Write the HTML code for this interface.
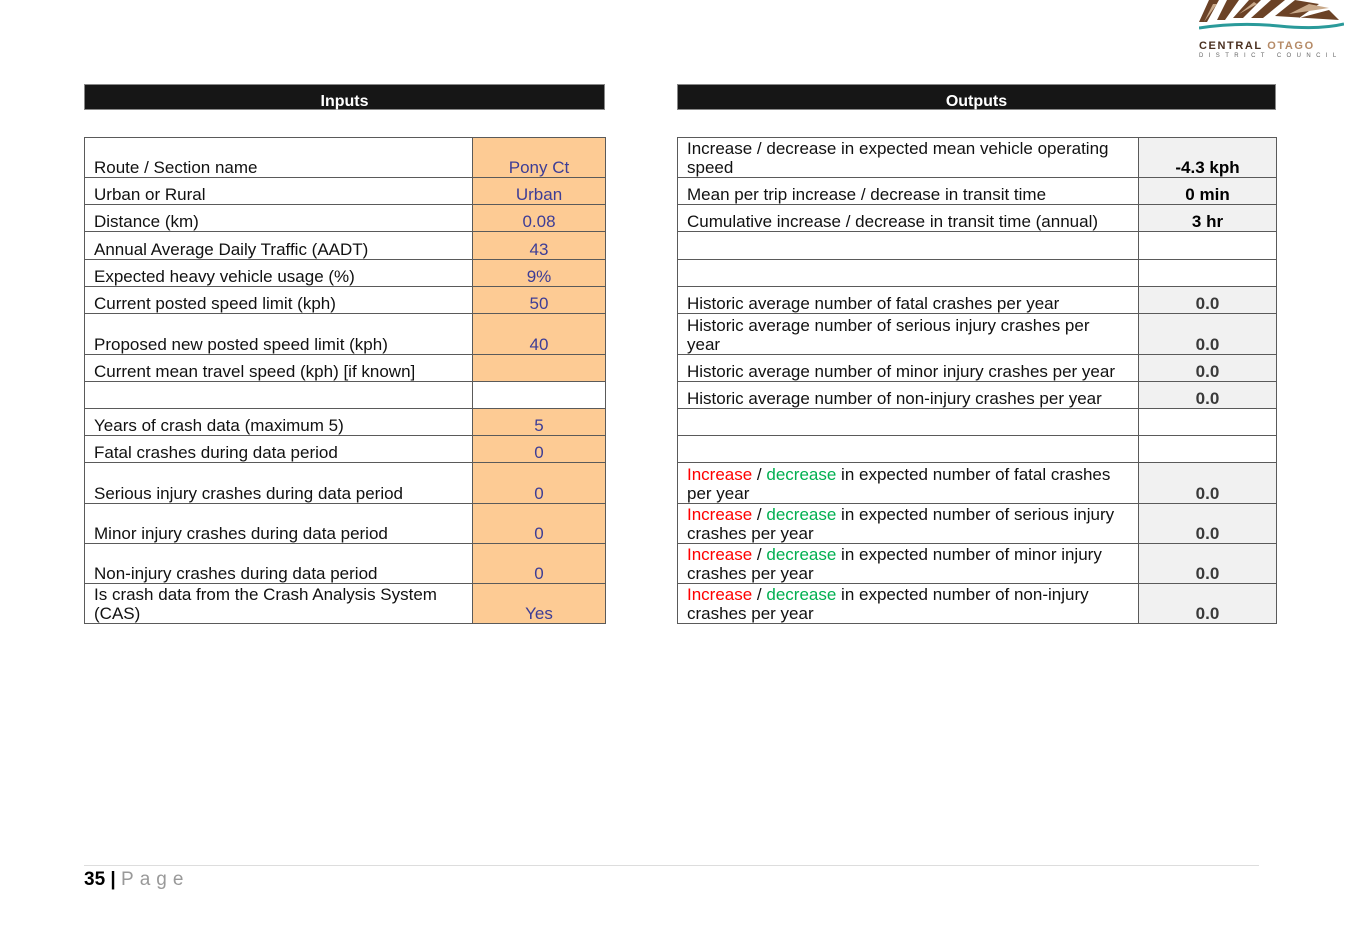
<!DOCTYPE html>
<html><head><meta charset="utf-8"><style>
body{margin:0;width:1360px;height:939px;background:#fff;position:relative;font-family:"Liberation Sans",Arial,sans-serif;overflow:hidden}
.hdr{position:absolute;top:84px;height:26px;background:#161616;color:#fff;font-weight:bold;font-size:16px;text-align:center;line-height:33px;border:1px solid #888;box-sizing:border-box}
table{position:absolute;top:137px;border-collapse:collapse;font-size:17px;color:#111;table-layout:fixed}
td{border:1px solid #5a5a5a;vertical-align:bottom;padding:0 0 0 9px;line-height:19px;box-sizing:border-box}
td.v{padding:0;text-align:center;color:#3d3d96;background:#fdcb94}
td.o{padding:0;text-align:center;font-weight:bold;color:#3a3a3a;background:#f1f1f1}
td.w{background:#fff}
.r{color:#f00}.g{color:#00b050}
</style></head><body>
<div style="position:absolute;left:1199px;top:0;width:145px;height:55px">
<svg width="145" height="32" viewBox="0 0 145 32">
<path d="M0 22 L10 0 L20 0 L8 22Z M18 20 L28 0 L40 0 L26 20Z M34 18 L50 0 L62 0 L44 18Z M52 18 L72 0 L86 0 L64 18Z M76 16 L96 0 L120 4 L100 18 L130 10 L140 20 Z" fill="#6b4226"/>
<path d="M5 22 L14 4 L18 4 Z M40 14 L55 2 L58 4 Z M90 14 L110 4 L130 8Z" fill="#c9a98a"/>
<path d="M0 28 Q40 22 80 26 T145 24" stroke="#2a9a9a" stroke-width="3" fill="none"/>
</svg>
<div style="font-size:11px;font-weight:bold;letter-spacing:1.6px;line-height:12px;color:#4a3020;white-space:nowrap;margin-top:3px">CENTRAL <span style="color:#b58a66">OTAGO</span></div>
<div style="font-size:6px;letter-spacing:5.4px;color:#666;line-height:8px;white-space:nowrap">DISTRICT COUNCIL</div>
</div>

<div class="hdr" style="left:84px;width:521px">Inputs</div>
<div class="hdr" style="left:677px;width:599px">Outputs</div>

<table style="left:84px;width:521px">
<colgroup><col style="width:388px"><col style="width:133px"></colgroup>
<tr style="height:40px"><td>Route / Section name</td><td class="v">Pony Ct</td></tr>
<tr style="height:27px"><td>Urban or Rural</td><td class="v">Urban</td></tr>
<tr style="height:27px"><td>Distance (km)</td><td class="v">0.08</td></tr>
<tr style="height:28px"><td>Annual Average Daily Traffic (AADT)</td><td class="v">43</td></tr>
<tr style="height:27px"><td>Expected heavy vehicle usage (%)</td><td class="v">9%</td></tr>
<tr style="height:27px"><td>Current posted speed limit (kph)</td><td class="v">50</td></tr>
<tr style="height:41px"><td>Proposed new posted speed limit (kph)</td><td class="v">40</td></tr>
<tr style="height:27px"><td>Current mean travel speed (kph) [if known]</td><td class="v"></td></tr>
<tr style="height:27px"><td></td><td class="w"></td></tr>
<tr style="height:27px"><td>Years of crash data (maximum 5)</td><td class="v">5</td></tr>
<tr style="height:27px"><td>Fatal crashes during data period</td><td class="v">0</td></tr>
<tr style="height:41px"><td>Serious injury crashes during data period</td><td class="v">0</td></tr>
<tr style="height:40px"><td>Minor injury crashes during data period</td><td class="v">0</td></tr>
<tr style="height:40px"><td>Non-injury crashes during data period</td><td class="v">0</td></tr>
<tr style="height:40px"><td>Is crash data from the Crash Analysis System<br>(CAS)</td><td class="v">Yes</td></tr>
</table>

<table style="left:677px;width:599px">
<colgroup><col style="width:461px"><col style="width:138px"></colgroup>
<tr style="height:40px"><td>Increase / decrease in expected mean vehicle operating<br>speed</td><td class="o" style="color:#000">-4.3 kph</td></tr>
<tr style="height:27px"><td>Mean per trip increase / decrease in transit time</td><td class="o" style="color:#000">0 min</td></tr>
<tr style="height:27px"><td>Cumulative increase / decrease in transit time (annual)</td><td class="o" style="color:#000">3 hr</td></tr>
<tr style="height:28px"><td></td><td class="w"></td></tr>
<tr style="height:27px"><td></td><td class="w"></td></tr>
<tr style="height:27px"><td>Historic average number of fatal crashes per year</td><td class="o">0.0</td></tr>
<tr style="height:41px"><td>Historic average number of serious injury crashes per<br>year</td><td class="o">0.0</td></tr>
<tr style="height:27px"><td>Historic average number of minor injury crashes per year</td><td class="o">0.0</td></tr>
<tr style="height:27px"><td>Historic average number of non-injury crashes per year</td><td class="o">0.0</td></tr>
<tr style="height:27px"><td></td><td class="w"></td></tr>
<tr style="height:27px"><td></td><td class="w"></td></tr>
<tr style="height:41px"><td><span class="r">Increase</span> / <span class="g">decrease</span> in expected number of fatal crashes<br>per year</td><td class="o">0.0</td></tr>
<tr style="height:40px"><td><span class="r">Increase</span> / <span class="g">decrease</span> in expected number of serious injury<br>crashes per year</td><td class="o">0.0</td></tr>
<tr style="height:40px"><td><span class="r">Increase</span> / <span class="g">decrease</span> in expected number of minor injury<br>crashes per year</td><td class="o">0.0</td></tr>
<tr style="height:40px"><td><span class="r">Increase</span> / <span class="g">decrease</span> in expected number of non-injury<br>crashes per year</td><td class="o">0.0</td></tr>
</table>

<div style="position:absolute;left:84px;top:865px;width:1175px;height:1px;background:#ddd"></div>
<div style="position:absolute;left:84px;top:869px;font-size:19px;line-height:22px"><b>35 |</b> <span style="color:#999;letter-spacing:6px">Page</span></div>
</body></html>
